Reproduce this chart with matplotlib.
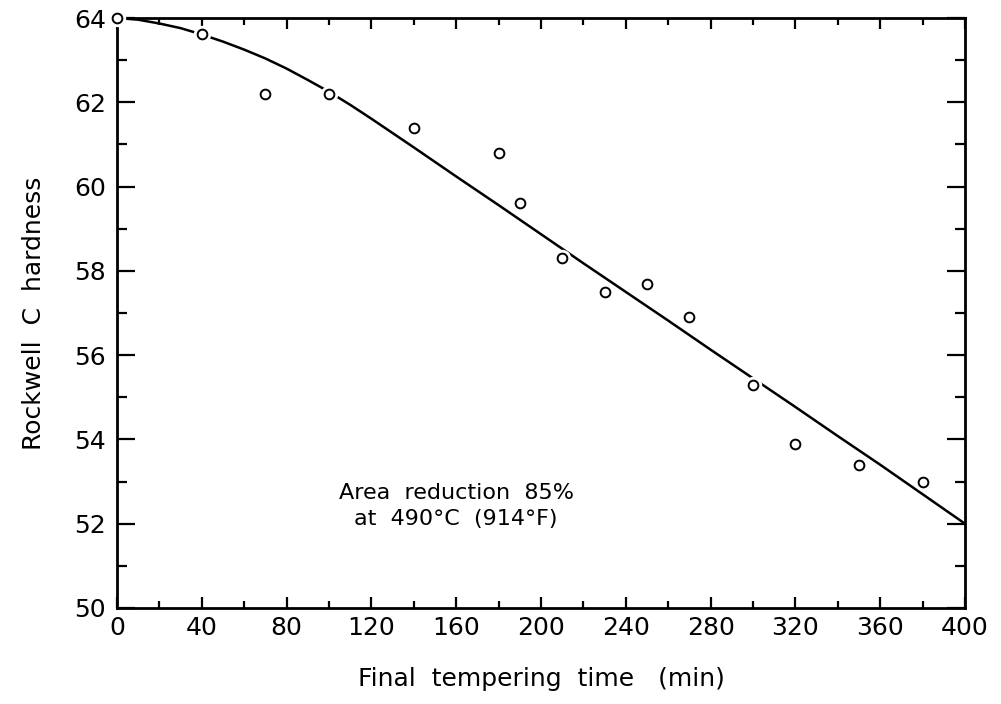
import numpy as np
from matplotlib import pyplot as plt
from matplotlib.ticker import MultipleLocator

# measured points
t_pts = [0, 40, 70, 100, 140, 180, 190, 210, 230, 250, 270, 300, 320, 350, 380]
hrc_pts = [64.0, 63.62, 62.2, 62.2, 61.4, 60.8, 59.6, 58.3, 57.5, 57.7, 56.9, 55.3, 53.9, 53.4, 53.0]

# fitted curve
t_fit = [0, 10, 20, 30, 40, 50, 60, 70, 80, 90, 100, 110, 120, 140, 160, 180, 200, 220, 240,
         260, 280, 300, 320, 340, 360, 380, 400]
hrc_fit = [64.0, 63.96, 63.87, 63.76, 63.61, 63.44, 63.25, 63.04, 62.8, 62.53, 62.25, 61.94, 61.61,
           60.93, 60.24, 59.56, 58.87, 58.18, 57.5, 56.82, 56.13, 55.45, 54.77, 54.08, 53.4, 52.7, 52.0]

fig = plt.figure(figsize=(10.01, 7.04), dpi=100)
ax = fig.add_axes([0.1169, 0.1364, 0.8471, 0.838])

ax.plot(t_fit, hrc_fit, color="black", lw=1.8, zorder=2, clip_on=False)
# white halo so the line breaks around the circles
ax.plot(t_pts, hrc_pts, "o", ms=11.5, mfc="white", mec="white", zorder=3, clip_on=False)
ax.plot(t_pts, hrc_pts, "o", ms=7, mfc="white", mec="black", mew=1.4, zorder=4, clip_on=False)

ax.set_xlim(0, 400)
ax.set_ylim(50, 64)
ax.xaxis.set_major_locator(MultipleLocator(40))
ax.xaxis.set_minor_locator(MultipleLocator(20))
ax.yaxis.set_major_locator(MultipleLocator(2))
ax.yaxis.set_minor_locator(MultipleLocator(1))

for s in ax.spines.values():
    s.set_linewidth(2)
ax.tick_params(axis="both", which="both", direction="in", top=True, right=True, width=1.6, labelsize=18)
ax.tick_params(axis="x", which="major", length=8, pad=6)
ax.tick_params(axis="x", which="minor", length=5)
ax.tick_params(axis="y", which="major", length=13, pad=8)
ax.tick_params(axis="y", which="minor", length=7)

ax.set_xlabel("Final  tempering  time   (min)", fontsize=18, labelpad=19)
ax.set_ylabel("Rockwell  C  hardness", fontsize=18, labelpad=20)

ax.text(160, 52.42, "Area  reduction  85%\nat  490°C  (914°F)", fontsize=16,
        ha="center", va="center", linespacing=1.4)

fig.savefig("out.png", dpi=100)
